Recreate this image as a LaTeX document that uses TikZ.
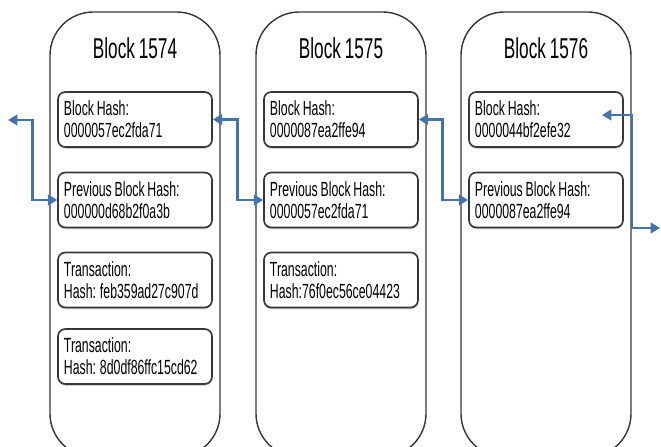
\documentclass[tikz,border=0pt]{standalone}
\usepackage{fontspec}
\setmainfont{Liberation Sans}
\newfontfamily\chainfont{Liberation Sans}[FakeStretch=0.6, WordSpace=0.8]
\usetikzlibrary{positioning, arrows.meta, shadows}
\definecolor{linkblue}{RGB}{68,114,172}
\definecolor{edgegray}{RGB}{55,55,55}
\tikzset{
    blockbox/.style={rectangle, rounded corners=1.3cm, draw=edgegray, line width=1.2pt, fill=white, minimum width=5.1cm, minimum height=13.35cm},
    blocktitle/.style={font=\chainfont\fontsize{24.5}{26}\selectfont, text=black},
    fieldbox/.style={rectangle, rounded corners=0.22cm, draw=edgegray, line width=1.4pt, fill=white, text width=4.26cm, inner sep=0.18cm, minimum height=1.65cm, align=flush left, font=\chainfont\fontsize{17.5}{18.5}\selectfont, drop shadow={shadow xshift=0pt, shadow yshift=-1.6pt, opacity=0.35}},
    link/.style={{Triangle[length=8pt,width=9pt]}-{Triangle[length=8pt,width=9pt]}, line width=2.3pt, color=linkblue}
}

\begin{document}
\begin{tikzpicture}[x=0.03cm, y=-0.03cm]
        \useasboundingbox (0,0) rectangle (661,447);
        \clip (0,0) rectangle (661,447);
        % the three blocks
        \node[blockbox] (b1574) at (135,234.5) {};
        \node[blockbox] (b1575) at (341,234.5) {};
        \node[blockbox] (b1576) at (546,234.5) {};
        \node[blocktitle] (n1574) at (135,48) {Block 1574};
        \node[blocktitle] (n1575) at (341,48) {Block 1575};
        \node[blocktitle] (n1576) at (546,48) {Block 1576};
        % fields
        \node[fieldbox] (h1574)  at (135,119.5) {Block Hash:\\0000057ec2fda71};
        \node[fieldbox] (p1574)  at (135,200)   {Previous Block Hash:\\000000d68b2f0a3b};
        \node[fieldbox] (t1574a) at (135,280)   {Transaction:\\Hash: feb359ad27c907d};
        \node[fieldbox] (t1574b) at (135,356.5) {Transaction:\\Hash: 8d0df86ffc15cd62};
        \node[fieldbox] (h1575)  at (341,119.5) {Block Hash:\\0000087ea2ffe94};
        \node[fieldbox] (p1575)  at (341,200)   {Previous Block Hash:\\0000057ec2fda71};
        \node[fieldbox] (t1575a) at (341,280)   {Transaction:\\Hash:76f0ec56ce04423};
        \node[fieldbox] (h1576)  at (546,119.5) {Block Hash:\\0000044bf2efe32};
        \node[fieldbox] (p1576)  at (546,200)   {Previous Block Hash:\\0000087ea2ffe94};
        % links between blocks
        \coordinate (outl) at (8,120);
        \coordinate (in1576) at (602,115);
        \coordinate (outr) at (660,228);
        \draw[link] (p1574.west) -- ++(-25,0) |- (outl);
        \draw[link] (h1574.east) -- ++(25,0) |- (p1575.west);
        \draw[link] (h1575.east) -- ++(24,0) |- (p1576.west);
        \draw[link] (in1576) -- ++(30,0) |- (outr);
\end{tikzpicture}
\end{document}
